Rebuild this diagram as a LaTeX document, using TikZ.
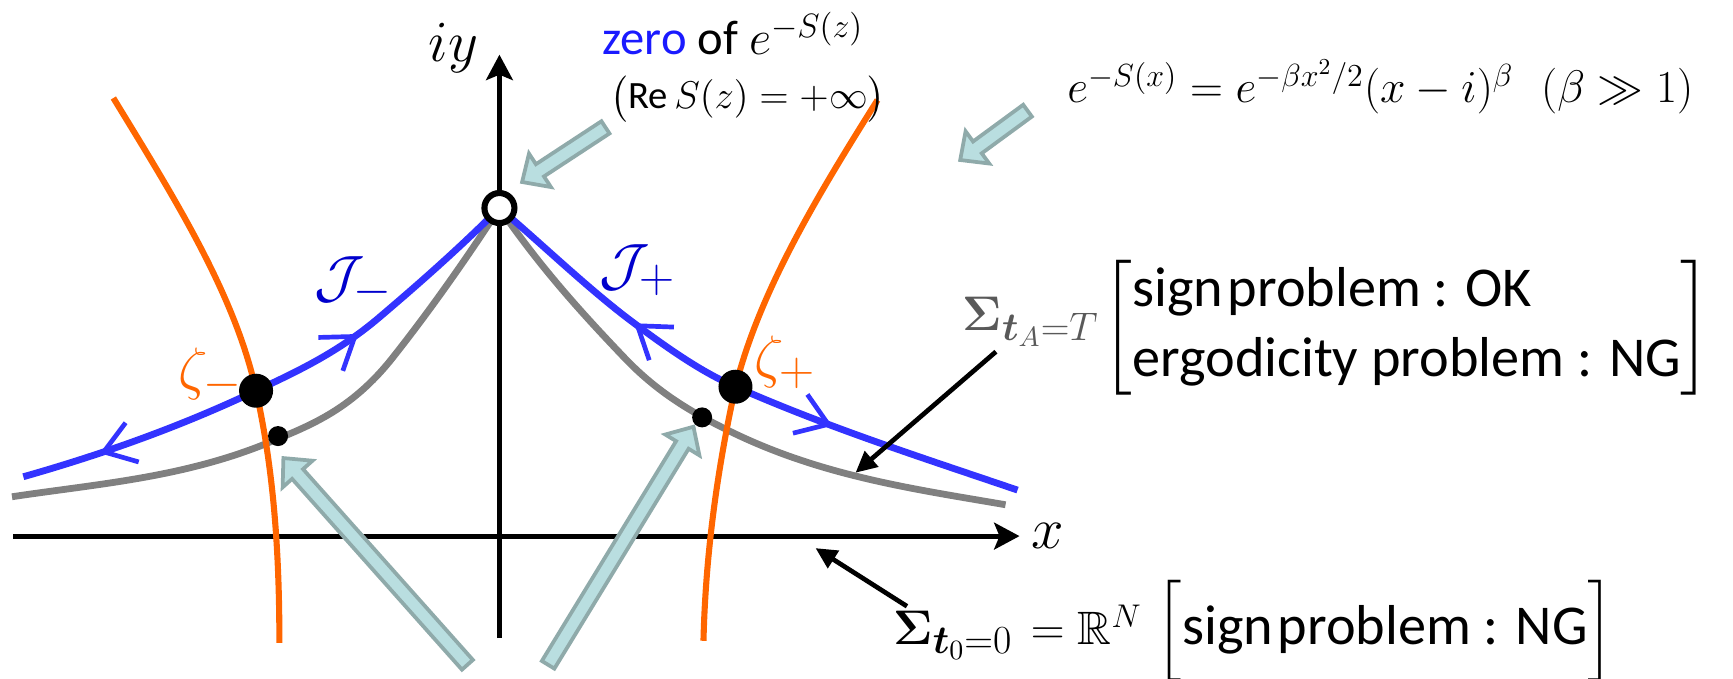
\RequirePackage{fix-cm}
\documentclass[tikz,border=0pt]{standalone}
\usepackage{amsmath,amssymb,bm}
\usepackage{fontspec}
\newfontfamily\labelfont{Carlito}
\usepackage{tikz}
\usetikzlibrary{arrows.meta,calc,decorations.markings}
\definecolor{LTBlue}{HTML}{3333FF}
\definecolor{LTLabelBlue}{HTML}{0000CC}
\definecolor{LTZero}{HTML}{1A1AFF}
\definecolor{LTOrange}{HTML}{FF6600}
\definecolor{LTGray}{HTML}{808080}
\definecolor{LTSigma}{HTML}{595959}
\definecolor{LTTeal}{HTML}{B9DEE0}
\definecolor{LTTealLine}{HTML}{8FAAAA}
\tikzset{flowtip/.tip={Straight Barb[length=0.45cm,width=0.62cm,line width=2pt]}}
\newcommand{\fatarrow}[2]{%
  \coordinate (fahead) at ($(#2)!0.32cm!(#1)$);
  \filldraw[fatarrow] ($(#1)!0.11cm!90:(#2)$) -- ($(fahead)!0.11cm!90:(#2)$)
    -- ($(fahead)!0.30cm!90:(#2)$) -- (#2) -- ($(fahead)!0.30cm!-90:(#2)$)
    -- ($(fahead)!0.11cm!-90:(#2)$) -- ($(#1)!0.11cm!-90:(#2)$) -- cycle;}
\newcommand{\nsp}{\hspace{0.08em}}
\newcommand{\bigsub}[1]{\text{\fontsize{17}{20}\selectfont$#1$}}

\begin{document}
\begin{tikzpicture}[x=1cm,y=1cm,
  every node/.style={inner sep=2pt},
  txt/.style={font=\labelfont\fontsize{24}{30}\selectfont},
  mlabel/.style={font=\fontsize{24.88}{30}\selectfont},
  slabel/.style={font=\fontsize{20.74}{25}\selectfont},
  axis/.style={line width=2.1pt,-{Stealth[length=0.38cm,width=0.40cm,inset=0.08cm]}},
  thimble/.style={LTBlue,line width=2.9pt,postaction={decorate}},
  flowline/.style={LTGray,line width=2.9pt},
  dualline/.style={LTOrange,line width=2.6pt},
  pointer/.style={line width=2pt,-{Triangle[length=0.32cm,width=0.30cm]}},
  fatarrow/.style={fill=LTTeal,draw=LTTealLine,line width=1.6pt}]
\path[use as bounding box] (0,0) rectangle (25.99,10.17);
\coordinate (zero) at (7.49,7.05);
\coordinate (zetam) at (3.84,4.31);
\coordinate (zetap) at (11.03,4.37);
\coordinate (crossm) at (4.17,3.63);
\coordinate (crossp) at (10.53,3.91);
\draw[axis] (0.20,2.13) -- (15.29,2.13);
\draw[axis] (7.49,0.60) -- (7.49,9.35);
\node[mlabel,anchor=base east] (ylabel) at (7.25,9.24) {$iy$};
\node[mlabel,anchor=base west] (xlabel) at (15.39,1.95) {$x$};
\draw[flowline] (0.18,2.72) .. controls (1.44,2.91) and (2.69,3.00) .. (3.95,3.50)
  .. controls (4.60,3.77) and (5.25,3.99) .. (5.90,4.82)
  .. controls (6.43,5.49) and (6.96,6.24) .. (zero);
\draw[flowline] (zero) .. controls (8.11,6.15) and (8.73,5.47) .. (9.35,4.82)
  .. controls (9.87,4.27) and (10.39,3.98) .. (10.91,3.72)
  .. controls (12.30,3.03) and (13.69,2.84) .. (15.08,2.60);
\draw[thimble,decoration={markings,mark=at position 1.2cm with {\arrowreversed{flowtip}},mark=at position 5.48cm with {\arrow{flowtip}}}]
  (0.35,3.02) .. controls (1.51,3.35) and (2.68,3.76) .. (zetam)
  .. controls (4.46,4.60) and (5.08,4.89) .. (5.70,5.42)
  .. controls (6.30,5.93) and (6.89,6.45) .. (zero);
\draw[thimble,decoration={markings,mark=at position 2.66cm with {\arrowreversed{flowtip}},mark=at position 6.02cm with {\arrow{flowtip}}}]
  (zero) .. controls (8.16,6.48) and (8.83,5.83) .. (9.50,5.33)
  .. controls (10.01,4.95) and (10.52,4.59) .. (zetap)
  .. controls (12.44,3.75) and (13.85,3.30) .. (15.26,2.82);
\draw[dualline] (1.70,8.70) .. controls (2.59,7.24) and (3.52,5.77) .. (zetam)
  .. controls (4.12,3.05) and (4.19,1.79) .. (4.19,0.53);
\draw[dualline] (13.16,8.67) .. controls (12.26,7.24) and (11.39,5.80) .. (zetap)
  .. controls (10.75,3.10) and (10.58,1.83) .. (10.55,0.56);
\fill (zetam) circle (0.255);
\fill (zetap) circle (0.255);
\fill (crossm) circle (0.15);
\fill (crossp) circle (0.15);
\filldraw[fill=white,draw=black,line width=2.6pt] (zero) circle (0.225);
\node[mlabel,text=LTLabelBlue] (jminus) at (5.30,5.93) {$\mathcal{J}_-$};
\node[mlabel,text=LTLabelBlue] (jplus) at (9.56,6.12) {$\mathcal{J}_+$};
\node[mlabel,text=LTOrange] (zetamlabel) at (3.15,4.55) {$\zeta_-$};
\node[mlabel,text=LTOrange] (zetaplabel) at (11.78,4.74) {$\zeta_+$};
\node[anchor=base west,font=\labelfont\fontsize{20.74}{25}\selectfont] (zerotext) at (8.96,9.35) {{\color{LTZero}zero} of $e^{-S(z)}$};
\node[anchor=base west,font=\labelfont\fontsize{16.5}{20}\selectfont] (retext) at (9.08,8.54) {$\bigl(\text{Re}\,S(z)=+\infty\bigr)$};
\node[anchor=base west,font=\fontsize{19.5}{24}\selectfont] (eqtext) at (15.93,8.63) {$e^{-S(x)}=e^{-\beta x^2/2}(x-i)^{\beta}\ \ (\beta\gg 1)$};
\node[slabel,anchor=base west,text=LTSigma] (sigmaA) at (14.36,5.22) {$\bm{\Sigma}_{\bigsub{\bm{t}_A{=}T}}$};
\node[txt,anchor=west] (problemA) at (16.46,5.26) {$\left[\text{\begin{tabular}{@{}l@{}}sign\nsp problem : OK\\ ergodicity problem : NG\end{tabular}}\right]$};
\node[slabel,anchor=base west] (sigmazero) at (13.32,0.50) {$\bm{\Sigma}_{\bigsub{\bm{t}_0{=}0}}$};
\node[txt,anchor=base west] (problemzero) at ([xshift=0.12cm]sigmazero.base east) {{\fontsize{20}{24}\selectfont$=\mathbb{R}^N$}\hspace{0.25em}$\Bigl[$sign\nsp problem : NG$\Bigr]$};
\coordinate (graymark) at (12.83,3.08);
\coordinate (axismark) at (12.23,1.95);
\draw[pointer] (sigmaA) -- (graymark);
\draw[pointer] (sigmazero) -- (axismark);
\coordinate (zerotip) at (7.83,7.44);
\coordinate (eqtail) at (15.41,8.51);
\coordinate (eqtip) at (14.40,7.77);
\coordinate (leftfoot) at (7.01,0.20);
\coordinate (lefttip) at (4.25,3.30);
\coordinate (rightfoot) at (8.22,0.20);
\coordinate (righttip) at (10.40,3.77);
\fatarrow{retext.south west}{zerotip}
\fatarrow{eqtail}{eqtip}
\fatarrow{leftfoot}{lefttip}
\fatarrow{rightfoot}{righttip}
\end{tikzpicture}
\end{document}
